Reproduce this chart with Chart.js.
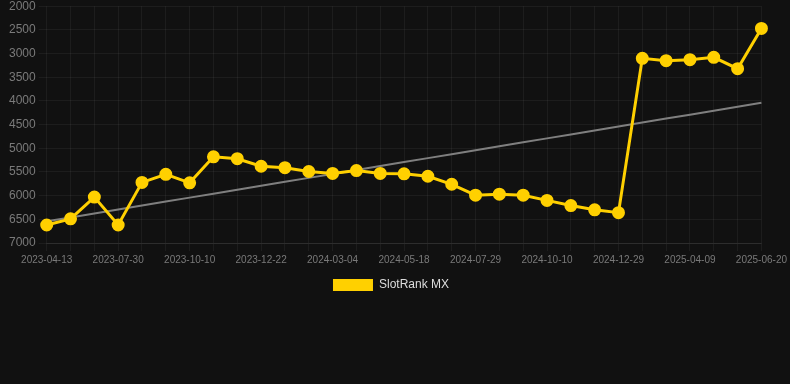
<!DOCTYPE html>
<html>
<head>
<meta charset="utf-8">
<script src="https://cdn.jsdelivr.net/npm/chart.js@4"></script>
<style>
  html, body { margin: 0; padding: 0; background: #111111; overflow: hidden; }
  #wrap { width: 790px; height: 305px; position: relative; margin-top: -4px; }
</style>
</head>
<body>
<div id="wrap"><canvas id="chart"></canvas></div>
<script>
const labels = [
    '2023-04-13', '2023-05-19', '2023-06-24', '2023-07-30', '2023-08-23', '2023-09-16',
    '2023-10-10', '2023-11-03', '2023-11-27', '2023-12-22', '2024-01-15', '2024-02-09',
    '2024-03-04', '2024-03-29', '2024-04-23', '2024-05-18', '2024-06-11', '2024-07-05',
    '2024-07-29', '2024-08-22', '2024-09-16', '2024-10-10', '2024-11-04', '2024-12-04',
    '2024-12-29', '2025-01-31', '2025-03-06', '2025-04-09', '2025-05-05', '2025-05-28',
    '2025-06-20'
];

const rankMX = [
    6620, 6490, 6030, 6620, 5720, 5550,
    5730, 5180, 5220, 5380, 5410, 5490,
    5530, 5470, 5530, 5540, 5590, 5760,
    5990, 5970, 5990, 6100, 6210, 6300,
    6360, 3100, 3150, 3130, 3080, 3320,
    2470
];

const yTicks = { min: 2000, max: 7000, step: 500 };

// least squares trend over the series
function trendOf(values) {
    const n = values.length;
    const mx = (n - 1) / 2;
    const my = values.reduce((a, b) => a + b, 0) / n;
    let num = 0, den = 0;
    values.forEach((v, i) => {
        num += (i - mx) * (v - my);
        den += (i - mx) * (i - mx);
    });
    const slope = num / den;
    return values.map((_, i) => my + slope * (i - mx));
}

Chart.defaults.font.family = 'Arial, "Liberation Sans", sans-serif';

const ctx = document.getElementById('chart');
new Chart(ctx, {
    type: 'line',
    data: {
        labels: labels,
        datasets: [{
            label: 'SlotRank MX',
            data: rankMX,
            borderColor: '#FFD000',
            backgroundColor: '#FFD000',
            borderWidth: 3,
            pointRadius: 5,
            pointHoverRadius: 6,
            pointBackgroundColor: '#FFD000',
            pointBorderColor: '#FFD000',
            tension: 0,
            order: 1
        }, {
            label: 'trend',
            data: trendOf(rankMX),
            borderColor: 'rgba(140, 140, 140, 0.9)',
            borderWidth: 2,
            pointRadius: 0,
            fill: false,
            order: 2
        }]
    },
    options: {
        responsive: true,
        maintainAspectRatio: false,
        animation: false,
        layout: { padding: { left: 6, right: 14, top: 0, bottom: 0 } },
        scales: {
            x: {
                grid: { color: 'rgba(255,255,255,0.05)' },
                border: { color: 'rgba(255,255,255,0.08)' },
                ticks: {
                    color: '#7a7a7a',
                    font: { size: 10 },
                    autoSkip: false,
                    maxRotation: 0,
                    callback: function (value, index) {
                        return index % 3 === 0 ? labels[index] : '';
                    }
                }
            },
            y: {
                reverse: true,
                min: yTicks.min,
                max: yTicks.max,
                grid: { color: 'rgba(255,255,255,0.05)' },
                border: { display: false },
                ticks: {
                    stepSize: yTicks.step,
                    color: '#7a7a7a',
                    font: { size: 12 },
                    callback: (v) => String(v)
                }
            }
        },
        plugins: {
            legend: {
                position: 'bottom',
                labels: {
                    color: '#dddddd',
                    font: { size: 12 },
                    boxWidth: 40,
                    boxHeight: 12,
                    filter: (item) => item.text !== 'trend',
                    generateLabels: (chart) =>
                        Chart.defaults.plugins.legend.labels.generateLabels(chart)
                            .map(l => Object.assign(l, { lineWidth: 0 }))
                }
            },
            tooltip: { enabled: false }
        }
    }
});
</script>
</body>
</html>
